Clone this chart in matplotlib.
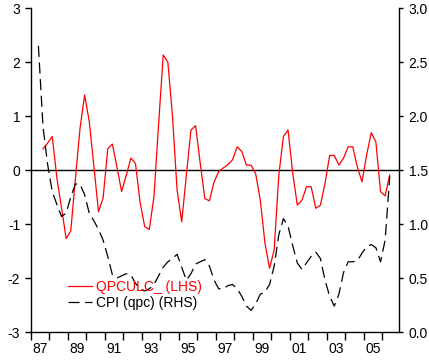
import numpy as np
import matplotlib
matplotlib.use("Agg")
import matplotlib.pyplot as plt
from matplotlib.ticker import FixedLocator, FuncFormatter

plt.rcParams['font.family'] = ['Liberation Sans', 'DejaVu Sans']
plt.rcParams['axes.unicode_minus'] = False
plt.rcParams['lines.scale_dashes'] = False

# ---- data (quarterly, index 0 = 1987Q1) ----
start_year = 1987
qpculc_start_q = 2   # 1987Q3
qpculc = [0.39, 0.50, 0.62, -0.15, -0.70, -1.27, -1.13, -0.17, 0.77, 1.39,
          0.90, 0.07, -0.77, -0.52, 0.39, 0.48, 0.05, -0.40, -0.10, 0.22,
          0.12, -0.60, -1.05, -1.10, -0.49, 0.85, 2.13, 2.00, 1.00, -0.37,
          -0.96, -0.10, 0.74, 0.82, 0.13, -0.53, -0.57, -0.22, -0.03, 0.04,
          0.10, 0.19, 0.43, 0.34, 0.09, 0.09, -0.07, -0.56, -1.35, -1.82,
          -1.48, -0.10, 0.62, 0.74, -0.05, -0.65, -0.56, -0.31, -0.31, -0.71,
          -0.65, -0.25, 0.27, 0.27, 0.09, 0.22, 0.43, 0.43, 0.05, -0.22,
          0.28, 0.69, 0.52, -0.40, -0.48, -0.09]

cpi_start_q = 1      # 1987Q2
cpi = [2.65, 1.90, 1.55, 1.30, 1.18, 1.07, 1.10, 1.25, 1.37, 1.37,
       1.27, 1.10, 1.03, 0.95, 0.85, 0.70, 0.53, 0.50, 0.52, 0.54,
       0.53, 0.45, 0.40, 0.38, 0.40, 0.44, 0.52, 0.60, 0.65, 0.68,
       0.72, 0.60, 0.48, 0.54, 0.63, 0.65, 0.67, 0.61, 0.48, 0.40,
       0.40, 0.43, 0.44, 0.40, 0.33, 0.24, 0.20, 0.26, 0.35, 0.37,
       0.44, 0.61, 0.90, 1.05, 0.98, 0.80, 0.64, 0.58, 0.64, 0.70,
       0.74, 0.68, 0.48, 0.33, 0.24, 0.35, 0.55, 0.65, 0.65, 0.66,
       0.73, 0.79, 0.81, 0.78, 0.65, 0.85, 1.44]

labels = ["QPCULC_ (LHS)", "CPI (qpc) (RHS)"]
year_labels = ["87", "89", "91", "93", "95", "97", "99", "01", "03", "05"]
left_ticks = [-3, -2, -1, 0, 1, 2, 3]
right_ticks = [0.0, 0.5, 1.0, 1.5, 2.0, 2.5, 3.0]


def qdates(start_q, n):
    q = np.arange(start_q, start_q + n)
    return start_year + (q + 0.6) / 4.0


fig = plt.figure(figsize=(4.29, 3.61), dpi=100)
ax = fig.add_axes([31 / 429, 1 - 332 / 361, 368 / 429, 324 / 361])
ax2 = ax.twinx()

l1, = ax.plot(qdates(qpculc_start_q, len(qpculc)), qpculc, color='#ff0000', lw=0.9)
l2, = ax2.plot(qdates(cpi_start_q, len(cpi)), cpi, color='black', lw=0.9,
               dashes=(8, 4))
ax.axhline(0, color='black', lw=1.0, zorder=1)

ax.set_xlim(1987, 2006.9)
ax.set_ylim(-3, 3)
ax2.set_ylim(0, 3)

# x ticks at each year, labels centred in every other year
ax.xaxis.set_major_locator(FixedLocator(np.arange(1987, 2007)))
ax.xaxis.set_major_formatter(FuncFormatter(lambda v, p: ""))
ax.xaxis.set_minor_locator(FixedLocator(np.arange(1987, 2006, 2) + 0.5))
ax.set_xticklabels(year_labels, minor=True)
ax.tick_params(axis='x', which='major', direction='out', length=5.5, width=1, color='black')
ax.tick_params(axis='x', which='minor', length=0, pad=7, labelsize=10)

ax.set_yticks(left_ticks)
ax.set_yticklabels([str(t) for t in left_ticks])
ax.tick_params(axis='y', direction='out', length=4.3, width=1, pad=3.5, labelsize=10)

ax2.set_yticks(right_ticks)
ax2.set_yticklabels([f"{t:.1f}" for t in right_ticks])
ax2.tick_params(axis='y', direction='out', length=3, width=1, pad=4, labelsize=10)

for s in ['top', 'right']:
    ax.spines[s].set_visible(False)
for s in ['top', 'left', 'bottom']:
    ax2.spines[s].set_visible(False)
for a in (ax, ax2):
    for s in a.spines.values():
        s.set_linewidth(1.0)
        s.set_color('black')

leg = ax2.legend([l1, l2], labels, loc='lower left', bbox_to_anchor=(0.10, 0.068),
                 frameon=False, handlelength=1.75, handletextpad=0.25,
                 labelspacing=0.12, borderaxespad=0, borderpad=0, fontsize=10)
leg.get_texts()[0].set_color('#ff0000')

fig.savefig("out.png", dpi=100)
